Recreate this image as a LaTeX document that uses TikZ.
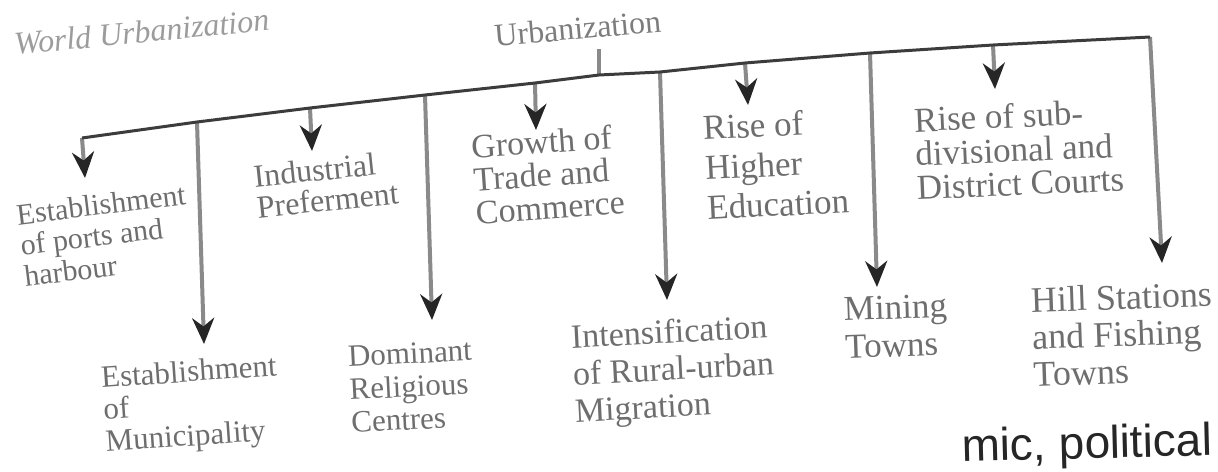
\documentclass[tikz,border=0pt]{standalone}
\usepackage{fontspec}
\setmainfont{Liberation Serif}
\newfontfamily\bodyfont{Liberation Sans}
\usepackage{xcolor}
\usepackage{tikz}
\usetikzlibrary{arrows.meta}
\definecolor{txtgray}{HTML}{6E6E6E}
\definecolor{fadegray}{HTML}{9C9C9C}
\definecolor{stemgray}{HTML}{8A8A8A}
\definecolor{busgray}{HTML}{3C3C3C}
\definecolor{tipgray}{HTML}{262626}
\newcommand\lfont[2]{\fontsize{#1}{#2}\selectfont}
\tikzstyle{lbl} = [inner sep=0pt, anchor=north west, align=left, text=txtgray]
\tikzstyle{bus} = [line width=1.5pt, draw=busgray, line join=round]
\tikzstyle{stem} = [line width=2pt, draw=stemgray]
\tikzstyle{arrow} = [stem, -{Stealth[length=13pt, width=11pt, color=tipgray]}]

\begin{document}
\begin{tikzpicture}[x=0.5pt, y=-0.5pt]
	\path [use as bounding box, fill=white] (0,0) rectangle (1218,471);
	\coordinate (jPor) at (82,138);
	\coordinate (jMun) at (197,122);
	\coordinate (jInd) at (310,108);
	\coordinate (jDom) at (425,95);
	\coordinate (jGro) at (535,83);
	\coordinate (jUrb) at (599,75);
	\coordinate (jInt) at (660,72);
	\coordinate (jHig) at (745,63);
	\coordinate (jMin) at (870,53);
	\coordinate (jCou) at (993,45);
	\coordinate (jHil) at (1150,37);
	\coordinate (tUrb) at (599,49);
	\coordinate (tPor) at (85,178);
	\coordinate (tMun) at (204,344);
	\coordinate (tInd) at (312,151);
	\coordinate (tDom) at (432,320);
	\coordinate (tGro) at (536,130);
	\coordinate (tInt) at (667,300);
	\coordinate (tHig) at (748,105);
	\coordinate (tMin) at (877,287);
	\coordinate (tCou) at (995,89);
	\coordinate (tHil) at (1162,263);
	\node (title) [lbl, anchor=base west, text=fadegray, font=\lfont{16}{16}\itshape, rotate=5.5] at (15,55) {World Urbanization};
	\node (urb) [lbl, text=fadegray!80!black, font=\lfont{16}{16}, rotate=5] at (493,24) {Urbanization};
	\node (ports) [lbl, font=\lfont{15}{15.5}, rotate=7] at (15,204) {Establishment\\of ports and\\harbour};
	\node (muni) [lbl, font=\lfont{15.5}{16}, rotate=4] at (100,366) {Establishment\\of\\Municipality};
	\node (ind) [lbl, font=\lfont{16}{15.5}, rotate=6] at (252,165) {Industrial\\Preferment};
	\node (dom) [lbl, font=\lfont{15.5}{16.5}, rotate=3] at (347,346) {Dominant\\Religious\\Centres};
	\node (grow) [lbl, font=\lfont{17}{16.5}, rotate=4] at (470,134) {Growth of\\Trade and\\Commerce};
	\node (inten) [lbl, font=\lfont{17}{18.5}, rotate=3] at (570,324) {Intensification\\of Rural-urban\\Migration};
	\node (high) [lbl, font=\lfont{17.5}{20}, rotate=3] at (702,115) {Rise of\\Higher\\Education};
	\node (mine) [lbl, font=\lfont{17.5}{19}, rotate=2] at (843,297) {Mining\\Towns};
	\node (court) [lbl, font=\lfont{17.5}{17}, rotate=2.5] at (913,107) {Rise of sub-\\divisional and\\District Courts};
	\node (hill) [lbl, font=\lfont{18}{18.5}, rotate=2] at (1030,287) {Hill Stations\\and Fishing\\Towns};
	\node (body) [inner sep=0pt, anchor=base west, text=black!85, font=\bodyfont\lfont{23}{23}, rotate=1.5] at (962,462) {mic, political};
	\draw [stem] (tUrb) -- (jUrb);
	\draw [arrow] (jPor) -- (tPor);
	\draw [arrow] (jMun) -- (tMun);
	\draw [arrow] (jInd) -- (tInd);
	\draw [arrow] (jDom) -- (tDom);
	\draw [arrow] (jGro) -- (tGro);
	\draw [arrow] (jInt) -- (tInt);
	\draw [arrow] (jHig) -- (tHig);
	\draw [arrow] (jMin) -- (tMin);
	\draw [arrow] (jCou) -- (tCou);
	\draw [arrow] (jHil) -- (tHil);
	\draw [bus] (jPor) -- (jMun) -- (jInd) -- (jDom) -- (jGro) -- (jUrb) -- (jInt) -- (jHig) -- (jMin) -- (jCou) -- (jHil);
\end{tikzpicture}
\end{document}
